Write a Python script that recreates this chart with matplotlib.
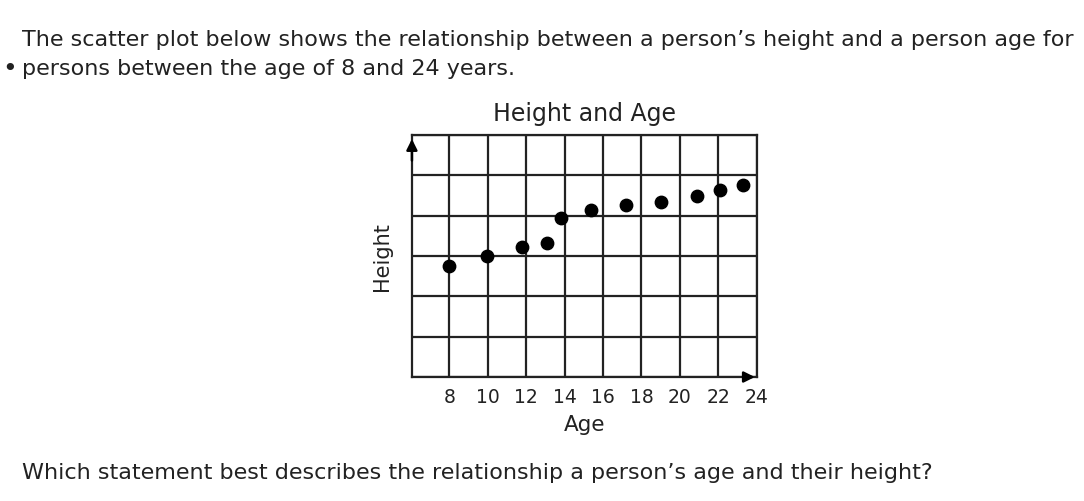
import matplotlib
matplotlib.use("Agg")
import matplotlib.pyplot as plt
import numpy as np

# data (height is in grid units, no scale on the chart)
age = [7.96, 9.96, 11.8, 13.1, 13.8, 15.4, 17.2, 19.0, 20.9, 22.1, 23.3]
height = [2.76, 3.01, 3.22, 3.33, 3.94, 4.14, 4.27, 4.33, 4.50, 4.64, 4.75]
age_ticks = [8, 10, 12, 14, 16, 18, 20, 22, 24]
height_grid = [0, 1, 2, 3, 4, 5, 6]

plt.rcParams['font.family'] = ['DejaVu Sans']
ink = '#222222'

fig = plt.figure(figsize=(10.84, 5.02), dpi=100)
ax = fig.add_axes([0.380, 0.247, 0.318, 0.482])

ax.set_xlim(6.05, 24)
ax.set_ylim(0, 6)

# grid lines
for a in age_ticks:
    ax.axvline(a, color=ink, lw=1.6, zorder=1)
for h in height_grid:
    ax.axhline(h, color=ink, lw=1.6, zorder=1)
for s in ax.spines.values():
    s.set_color(ink)
    s.set_linewidth(1.6)

ax.scatter(age, height, s=80, color='black', zorder=3)

# axis arrows
ax.annotate('', xy=(6.05, 5.97), xytext=(6.05, 5.3),
            arrowprops=dict(arrowstyle='-|>', color='black', lw=1.8, mutation_scale=16),
            annotation_clip=False)
ax.annotate('', xy=(24.05, 0.0), xytext=(23.3, 0.0),
            arrowprops=dict(arrowstyle='-|>', color='black', lw=1.8, mutation_scale=16),
            annotation_clip=False)

ax.set_xticks(age_ticks)
ax.set_xticklabels([str(a) for a in age_ticks], fontsize=13.5, color=ink)
ax.tick_params(axis='x', length=0, pad=7)
ax.set_yticks([])

ax.set_xlabel('Age', fontsize=15.5, color=ink, labelpad=6)
ax.set_ylabel('Height', fontsize=15, color=ink, labelpad=14)
ax.set_title('Height and Age', fontsize=17, color=ink, pad=11)

txt = dict(fontsize=16, color=ink, va='center')
fig.text(22 / 1084, 1 - 40 / 502,
         "The scatter plot below shows the relationship between a person\u2019s height and a person age for", **txt)
fig.text(2 / 1084, 1 - 69 / 502, "\u2022", fontsize=18, color=ink, va='center')
fig.text(22 / 1084, 1 - 69 / 502, "persons between the age of 8 and 24 years.", **txt)
fig.text(22 / 1084, 1 - 473 / 502,
         "Which statement best describes the relationship a person\u2019s age and their height?", **txt)

fig.savefig('out.png', dpi=100)
